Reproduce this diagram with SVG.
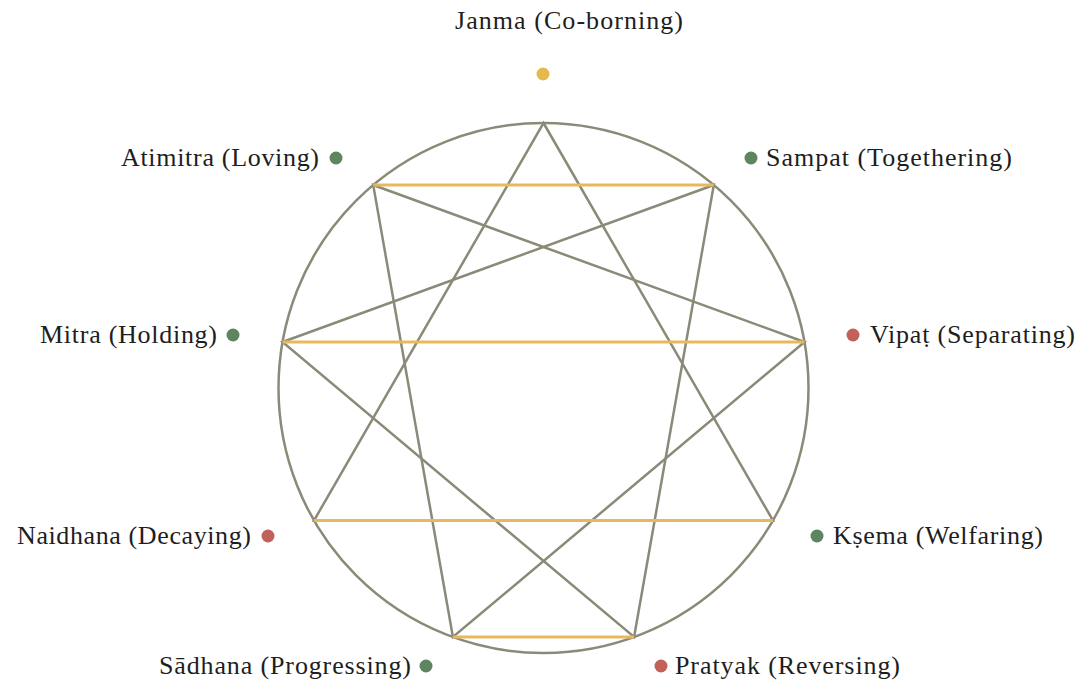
<svg xmlns="http://www.w3.org/2000/svg" width="1081" height="680" viewBox="0 0 1081 680">
<style>
.lbl{font-family:"Liberation Serif","Times New Roman",serif;font-size:26px;fill:#1e1e1e}
.g{stroke:#8b8a78;stroke-width:2.5;fill:none;stroke-linecap:round}
.y{stroke:#e8b95c;stroke-width:2.8;fill:none}
.dg{fill:#5c8560}.dr{fill:#c2605a}.dy{fill:#e6b94f}
</style>
<rect width="1081" height="680" fill="#fff"/>
<g id="connectors">
<circle class="g" cx="543.5" cy="388" r="265"/>
<polygon class="g" points="543.5,123 773,520.5 314,520.5"/>
<polygon class="g" points="713.8,185 634.1,637 282.5,342"/>
<polygon class="g" points="804.5,342 452.9,637 373.2,185"/>
<line class="y" x1="373.2" y1="185" x2="713.8" y2="185"/>
<line class="y" x1="282.5" y1="342" x2="804.5" y2="342"/>
<line class="y" x1="314" y1="520.5" x2="773" y2="520.5"/>
<line class="y" x1="452.9" y1="637" x2="634.1" y2="637"/>
</g>
<g id="janma"><circle class="dy" cx="543" cy="74" r="6.5"/><text class="lbl" x="455" y="29" textLength="228">Janma (Co-borning)</text></g>
<g id="sampat"><circle class="dg" cx="751" cy="158" r="6.5"/><text class="lbl" x="766" y="166" textLength="246">Sampat (Togethering)</text></g>
<g id="vipat"><circle class="dr" cx="853" cy="335" r="6.5"/><text class="lbl" x="870" y="343" textLength="205">Vipaṭ (Separating)</text></g>
<g id="ksema"><circle class="dg" cx="817" cy="536" r="6.5"/><text class="lbl" x="833" y="544" textLength="210">Kṣema (Welfaring)</text></g>
<g id="pratyak"><circle class="dr" cx="661" cy="666" r="6.5"/><text class="lbl" x="675" y="674" textLength="225">Pratyak (Reversing)</text></g>
<g id="sadhana"><circle class="dg" cx="426" cy="666" r="6.5"/><text class="lbl" x="159" y="674" textLength="252">Sādhana (Progressing)</text></g>
<g id="naidhana"><circle class="dr" cx="268" cy="536" r="6.5"/><text class="lbl" x="17" y="544" textLength="234">Naidhana (Decaying)</text></g>
<g id="mitra"><circle class="dg" cx="233" cy="335" r="6.5"/><text class="lbl" x="40" y="343" textLength="177">Mitra (Holding)</text></g>
<g id="atimitra"><circle class="dg" cx="336" cy="158" r="6.5"/><text class="lbl" x="121" y="166" textLength="198">Atimitra (Loving)</text></g>
</svg>
